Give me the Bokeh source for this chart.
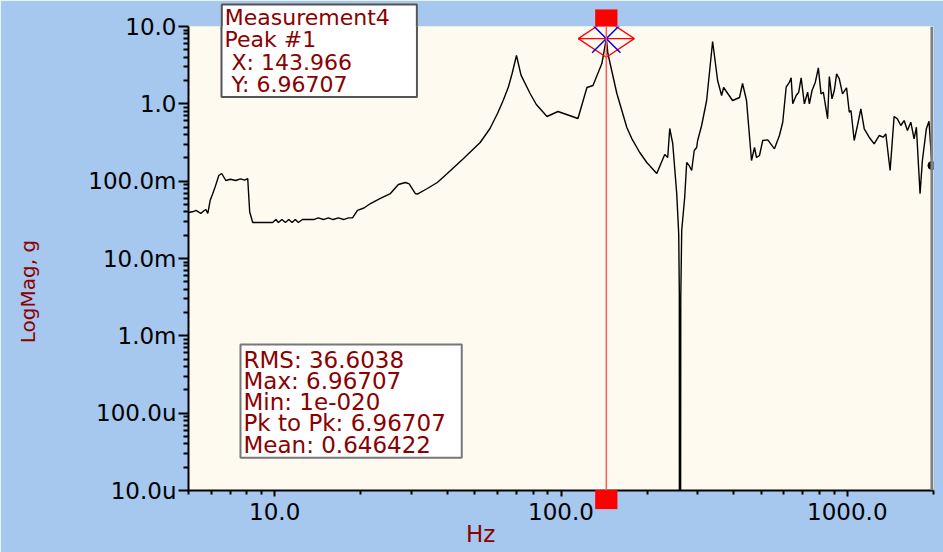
import math
from bokeh.plotting import figure
from bokeh.models import Range1d, FixedTicker, CustomJSTickFormatter, Label, Span
from bokeh.embed import file_html
from bokeh.resources import INLINE

# ---- data ----
freq_hz = [5.01, 5.2, 5.31, 5.45, 5.52, 5.65, 5.75, 5.84, 5.95, 6.08, 6.2, 6.38, 6.53, 6.75, 7.0, 7.31, 7.6, 7.85, 8.05, 8.18, 8.38,
           9.84, 10.1, 10.3, 10.6, 10.9, 11.2, 11.5, 11.8, 12.1, 12.5, 13.67, 14.2, 14.8, 15.4, 16.0, 16.7, 17.4, 18.1, 18.7,
           19.46, 20.5, 21.6, 23.4, 25.36, 27.04, 28.6, 29.5, 30.99, 31.49, 34.13, 36.98, 40.07, 45.56, 52.21, 56.5, 60.0, 62.8, 65.5, 67.5, 69.9,
           72.5, 77.98, 82.0, 89.36, 97.6, 114.6, 123.2, 129.3, 138.9, 143.966, 145.8, 156.7, 169.8, 176.7, 188.4, 199.4, 216.0, 230.3, 235.9, 239.8, 245.6,
           253.6, 257.7, 259.0, 259.8, 262.0, 264.0, 270.4, 274.8, 280.0, 286.0, 292.0, 297.7, 300.1, 309.9, 322.6, 338.5, 352.4, 363.9, 369.8,
           397.4, 420.3, 430.6, 444.6, 462.8, 474.1, 481.8,
           493.4, 506.6, 527.5, 556.6, 579.3, 594.9, 611.5, 627.9, 636.6, 644.8, 662.7, 676.6, 689.8, 707.9, 726.9, 737.0, 753.1, 773.3,
           792.2, 809.5, 824.6, 853.5, 865.3, 884.3, 900.7, 917.5, 937.6, 962.5, 993.9, 1016, 1030, 1057, 1085, 1115, 1146, 1192,
           1241, 1292, 1334, 1363, 1411, 1457, 1496, 1538, 1579, 1622, 1666, 1711, 1743, 1795, 1829, 1888, 1929, 1975]
mag_g = [0.0393, 0.0405, 0.0418, 0.0395, 0.0382, 0.0412, 0.0430, 0.0382, 0.0562, 0.0692, 0.085, 0.1183, 0.1256, 0.1020, 0.1060, 0.1020, 0.1070, 0.1030, 0.1080, 0.0400, 0.0292,
         0.0292, 0.0319, 0.0292, 0.0319, 0.0292, 0.0319, 0.0292, 0.0319, 0.0292, 0.0319, 0.0319, 0.0335, 0.0319, 0.0335, 0.0319, 0.0335, 0.0319, 0.0335, 0.0335,
         0.0418, 0.0450, 0.0514, 0.0597, 0.0692, 0.0905, 0.0961, 0.0920, 0.0692, 0.0680, 0.0804, 0.0961, 0.1256, 0.1950, 0.3161, 0.48, 0.75, 1.104, 1.65, 2.466, 4.217,
         2.35, 1.360, 0.98, 0.6857, 0.7957, 0.6460, 1.626, 1.726, 3.323, 6.96707, 4.476, 1.360, 0.4942, 0.3558, 0.2347, 0.1743, 0.1256, 0.2212, 0.2022, 0.4797, 0.3069,
         0.0692, 0.02104, 0.003525, 1e-20, 0.0030, 0.0230, 0.0615, 0.1743, 0.1600, 0.1373, 0.2491, 0.2724, 0.3355, 0.5246, 1.104, 6.397, 2.002, 1.281, 1.626,
         1.104, 1.207, 1.832, 1.104, 0.1850, 0.2724, 0.2022,
         0.2147, 0.3355, 0.3425, 0.2621, 0.3893, 0.5786, 1.641, 1.905, 2.172, 1.001, 1.281, 1.413, 2.172, 1.001, 1.413, 1.001, 1.487, 1.905,
         2.923, 1.348, 1.413, 0.6401, 2.257, 1.161, 1.487, 2.444, 2.108, 1.348, 1.612, 0.7791, 0.8196, 0.3355, 0.5245, 0.8623, 0.4755, 0.3702,
         0.3041, 0.3893, 0.3702, 0.4096, 0.1373, 0.6857, 0.6401, 0.5245, 0.6085, 0.4519, 0.5786, 0.3528, 0.4985, 0.0686, 0.1850, 0.4755, 0.5959, 0.1594]

peak_freq = 143.966
peak_mag = 6.96707
trace_name = "Measurement4"
peak_name = "Peak #1"
stats_names = ["RMS", "Max", "Min", "Pk to Pk", "Mean"]
stats_values = ["36.6038", "6.96707", "1e-020", "6.96707", "0.646422"]

y_tick_values = [1e-5, 1e-4, 1e-3, 1e-2, 1e-1, 1.0, 10.0]
y_tick_labels = ["10.0u", "100.0u", "1.0m", "10.0m", "100.0m", "1.0", "10.0"]
x_tick_values = [10.0, 100.0, 1000.0]
x_tick_labels = ["10.0", "100.0", "1000.0"]
x_label = "Hz"
y_label = "LogMag, g"

# ---- style ----
FONT = "DejaVu Sans"
DARKRED = "#8b0000"
BG = "#a6c8ee"
PLOT_BG = "#fffaf0"
NBSP = "\u00a0"

p = figure(width=943, height=552, x_axis_type="log", y_axis_type="log",
           x_range=Range1d(5, 2000), y_range=Range1d(1e-5, 10),
           output_backend="svg", toolbar_location=None,
           min_border_left=188, min_border_right=10, min_border_top=26, min_border_bottom=62)
p.background_fill_color = PLOT_BG
p.border_fill_color = BG
p.outline_line_color = None
p.grid.visible = False

x_minor = [m * 10.0 ** k for k in range(0, 4) for m in range(2, 10) if 5 <= m * 10.0 ** k <= 2000]
y_minor = [m * 10.0 ** k for k in range(-5, 1) for m in range(2, 10)]
fmt_code = """
let best = 0, d = 1e9;
for (let i = 0; i < vals.length; i++) {
  const e = Math.abs(Math.log10(vals[i]) - Math.log10(tick));
  if (e < d) { d = e; best = i; }
}
return labs[best];
"""
p.xaxis.ticker = FixedTicker(ticks=x_tick_values, minor_ticks=x_minor)
p.yaxis.ticker = FixedTicker(ticks=y_tick_values, minor_ticks=y_minor)
p.xaxis.formatter = CustomJSTickFormatter(args=dict(vals=x_tick_values, labs=x_tick_labels), code=fmt_code)
p.yaxis.formatter = CustomJSTickFormatter(args=dict(vals=y_tick_values, labs=y_tick_labels), code=fmt_code)

for ax in (p.xaxis[0], p.yaxis[0]):
    ax.axis_line_color = "black"
    ax.axis_line_width = 2
    ax.major_tick_line_color = "black"
    ax.minor_tick_line_color = "black"
    ax.major_tick_line_width = 2
    ax.minor_tick_line_width = 2
    ax.major_tick_in = 0
    ax.minor_tick_in = 0
    ax.major_label_text_font = FONT
    ax.major_label_text_font_size = "23px"
    ax.major_label_text_color = "black"
p.yaxis.major_tick_out = 10
p.yaxis.minor_tick_out = 5
p.yaxis.major_label_standoff = 2
p.xaxis.major_tick_out = 6
p.xaxis.minor_tick_out = 4
p.xaxis.major_label_standoff = 6

# curve
p.line(freq_hz, mag_g, line_color="black", line_width=1.4)
p.scatter([freq_hz[-1]], [mag_g[-1]], size=8, color="black")
p.add_layout(Span(location=freq_hz[-1], dimension="height", line_color="#808080", line_width=3))

# peak cursor
p.add_layout(Span(location=peak_freq, dimension="height", line_color="#ff5a5a", line_width=1.5))
p.scatter([peak_freq], [peak_mag], marker="diamond", angle=math.pi / 2, size=56,
          fill_color=None, line_color="red", line_width=1.3)
p.scatter([peak_freq], [peak_mag], marker="dash", size=56, line_color="red", line_width=1.3)
p.scatter([peak_freq], [peak_mag], marker="x", size=40, line_color="blue", line_width=1.5)

# cursor handles outside the frame (side panels are not clipped to the frame)
handle_top = Label(x=peak_freq, y=12.88, text=NBSP, text_font_size="1px", anchor="center",
                   background_fill_color="red", border_line_color=None,
                   padding=dict(left=11, right=11, top=8, bottom=8))
handle_bottom = Label(x=peak_freq, y=7.64e-6, text=NBSP, text_font_size="1px", anchor="center",
                      background_fill_color="red", border_line_color=None,
                      padding=dict(left=11, right=11, top=9, bottom=9))

# axis titles (placed in data units, drawn in side panels)
hz_label = Label(x=52.4, y=2.70e-6, text=x_label,
                 text_font=FONT, text_font_size="23px", text_color=DARKRED,
                 text_align="center", text_baseline="middle")
mag_label = Label(x=1.378, y=3.74e-3, text=y_label, angle=math.pi / 2,
                  text_font=FONT, text_font_size="20px", text_color=DARKRED,
                  text_align="center", text_baseline="middle")

# top line of the peak box sticks out above the frame
peak_top = Label(x=6.536, y=19.25, text=trace_name, anchor="top_left",
                 text_font=FONT, text_font_size="22px", text_color=DARKRED,
                 background_fill_color="white", border_line_color="#555555", border_line_width=2,
                 padding=dict(left=3, right=27, top=0, bottom=0))

p.add_layout(mag_label, "left")
p.add_layout(hz_label, "left")
p.add_layout(handle_top, "left")
p.add_layout(handle_bottom, "below")
p.add_layout(peak_top, "above")

# info boxes (inside the frame)
peak_text = "\n".join([NBSP, peak_name, NBSP + "X: %s" % peak_freq, NBSP + "Y: %s" % peak_mag])
p.add_layout(Label(x=33, y=486, x_units="screen", y_units="screen", text=peak_text, anchor="top_left",
                   text_font=FONT, text_font_size="22px", text_color=DARKRED, text_line_height=0.9,
                   background_fill_color="white", border_line_color="#555555", border_line_width=2,
                   padding=dict(left=3, right=65, top=0, bottom=0)))
stats_text = "\n".join("%s: %s" % (n, v) for n, v in zip(stats_names, stats_values))
p.add_layout(Label(x=52, y=146, x_units="screen", y_units="screen", text=stats_text, anchor="top_left",
                   text_font=FONT, text_font_size="23px", text_color=DARKRED, text_line_height=0.82,
                   background_fill_color="white", border_line_color="#777777", border_line_width=2,
                   padding=dict(left=3, right=16, top=2, bottom=0)))

open("out.html", "w").write(file_html(p, INLINE))
